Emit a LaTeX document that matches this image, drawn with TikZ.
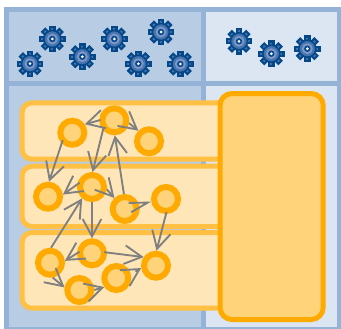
\documentclass[tikz,border=0pt]{standalone}
\usepackage{tikz}
\usepackage{xcolor}
\usetikzlibrary{arrows.meta}

\definecolor{panelline}{RGB}{149,179,215}
\definecolor{panelleft}{RGB}{184,204,228}
\definecolor{panelright}{RGB}{220,230,242}
\definecolor{rowline}{RGB}{255,192,68}
\definecolor{rowfill}{RGB}{255,230,184}
\definecolor{ringline}{RGB}{255,170,0}
\definecolor{ringfill}{RGB}{255,211,122}
\definecolor{geardark}{RGB}{4,72,138}
\definecolor{gearmid}{RGB}{70,116,172}
\definecolor{gearlight}{RGB}{125,150,200}

\tikzset{
  panel/.style={draw=panelline,line width=3.75pt},
  rowbox/.style={draw=rowline,fill=rowfill,line width=3.75pt,rounded corners=7.5pt},
  bigbox/.style={draw=ringline,fill=ringfill,line width=3.75pt,rounded corners=9pt},
  ring/.style={circle,draw=ringline,fill=ringfill,line width=4.5pt,minimum size=18pt,inner sep=0pt},
  flow/.style={draw=gray,line width=1.4pt,-{Straight Barb[length=13pt,width=14pt,line width=1.4pt]}},
  flownarrow/.style={draw=gray,line width=1.4pt,-{Straight Barb[length=13.8pt,width=7.2pt,line width=1.4pt]}},
  gearicon/.pic={
    \foreach \a in {0,45,...,315} {
      \draw [geardark,line width=4.8pt] (\a:7) -- (\a:13.2) ;
      \draw [gearmid,line width=1.6pt] (\a:7) -- (\a:11) ;
    }
    \draw [geardark,fill=gearmid,line width=1.2pt] (0,0) circle [radius=8.5] ;
    \fill [gearlight] (0,0) circle [radius=5.5] ;
    \fill [geardark] (0,0) circle [radius=3.2] ;
    \fill [white] (0,0) circle [radius=1.5] ;
  }
}

\begin{document}
\begin{tikzpicture}[x=0.75pt,y=0.75pt,yscale=-1,xscale=1]
\useasboundingbox (0,0) rectangle (341,328);

%Panels
\draw [panel,fill=panelleft] (6.5,9.5) rectangle (203,83.5) ;
\draw [panel,fill=panelright] (203,9.5) rectangle (339.5,83.5) ;
\draw [panel,fill=panelleft] (6.5,83.5) rectangle (203,329.5) ;
\draw [panel,fill=panelright] (203,83.5) rectangle (339.5,329.5) ;

%Gears
\foreach \x/\y in {30/63.7,52.3/39,82.3/56.7,114.3/39,138.3/63.7,161/32,180.3/64,239/41.3,271.3/53.7,307.3/48.7}
  \pic at (\x,\y) {gearicon};

%Rounded Rect
\draw [rowbox] (22,102.8) rectangle (260,159.2) ;
\draw [rowbox] (22,166.2) rectangle (260,226.5) ;
\draw [rowbox] (22,232.5) rectangle (260,308.2) ;
%Rounded Rect
\draw [bigbox] (220,93.5) rectangle (323.2,319.5) ;

% Circles
\node (ca) [ring] at (72.3,132.7) {};
\node (cb) [ring] at (114.3,120.3) {};
\node (cc) [ring] at (149,141.3) {};
\node (cd) [ring] at (48,196.7) {};
\node (ce) [ring] at (92,187) {};
\node (cf) [ring] at (124.7,209) {};
\node (cg) [ring] at (166,199) {};
\node (ch) [ring] at (50,262.7) {};
\node (ci) [ring] at (92,253.3) {};
\node (cj) [ring] at (79.3,290) {};
\node (ck) [ring] at (116.3,278) {};
\node (cl) [ring] at (156,265.7) {};

%Straight Lines
\draw [flow,shorten <=-1pt] (cb.180) -- (ca.34) ;
\draw [flow] (cb.349) -- (cc.135) ;
\draw [flow,shorten <=-2pt] (cb.221) -- (ce.88) ;
\draw [flow,shorten <=-2.5pt] (ca.225) -- (cd.86) ;
\draw [flow] (cf.93) -- (cb.272) ;
\draw [flow,shorten <=-2.2pt] (ce.170) -- (cd.8) ;
\draw [flow] (ce.351) -- (cf.133) ;
\draw [flownarrow,shorten <=6pt] (cf) -- (cg.190) ;
\draw [flow] (ch.86) -- (ce.229) ;
\draw [flow] (ce.270) -- (ci.90) ;
\draw [flow,shorten <=-1.5pt] (cg.270) -- (cl.88) ;
\draw [flow,shorten <=-2.2pt] (ci.3) -- (cl.145) ;
\draw [flow,shorten <=-2.2pt] (ci.180) -- (ch.7) ;
\draw [flow] (ch.280) -- (cj.170) ;
\draw [flow] (cj.0) -- (ck.217) ;
\draw [flow,shorten <=4pt] (ck.14) -- (cl.189) ;

\end{tikzpicture}
\end{document}
